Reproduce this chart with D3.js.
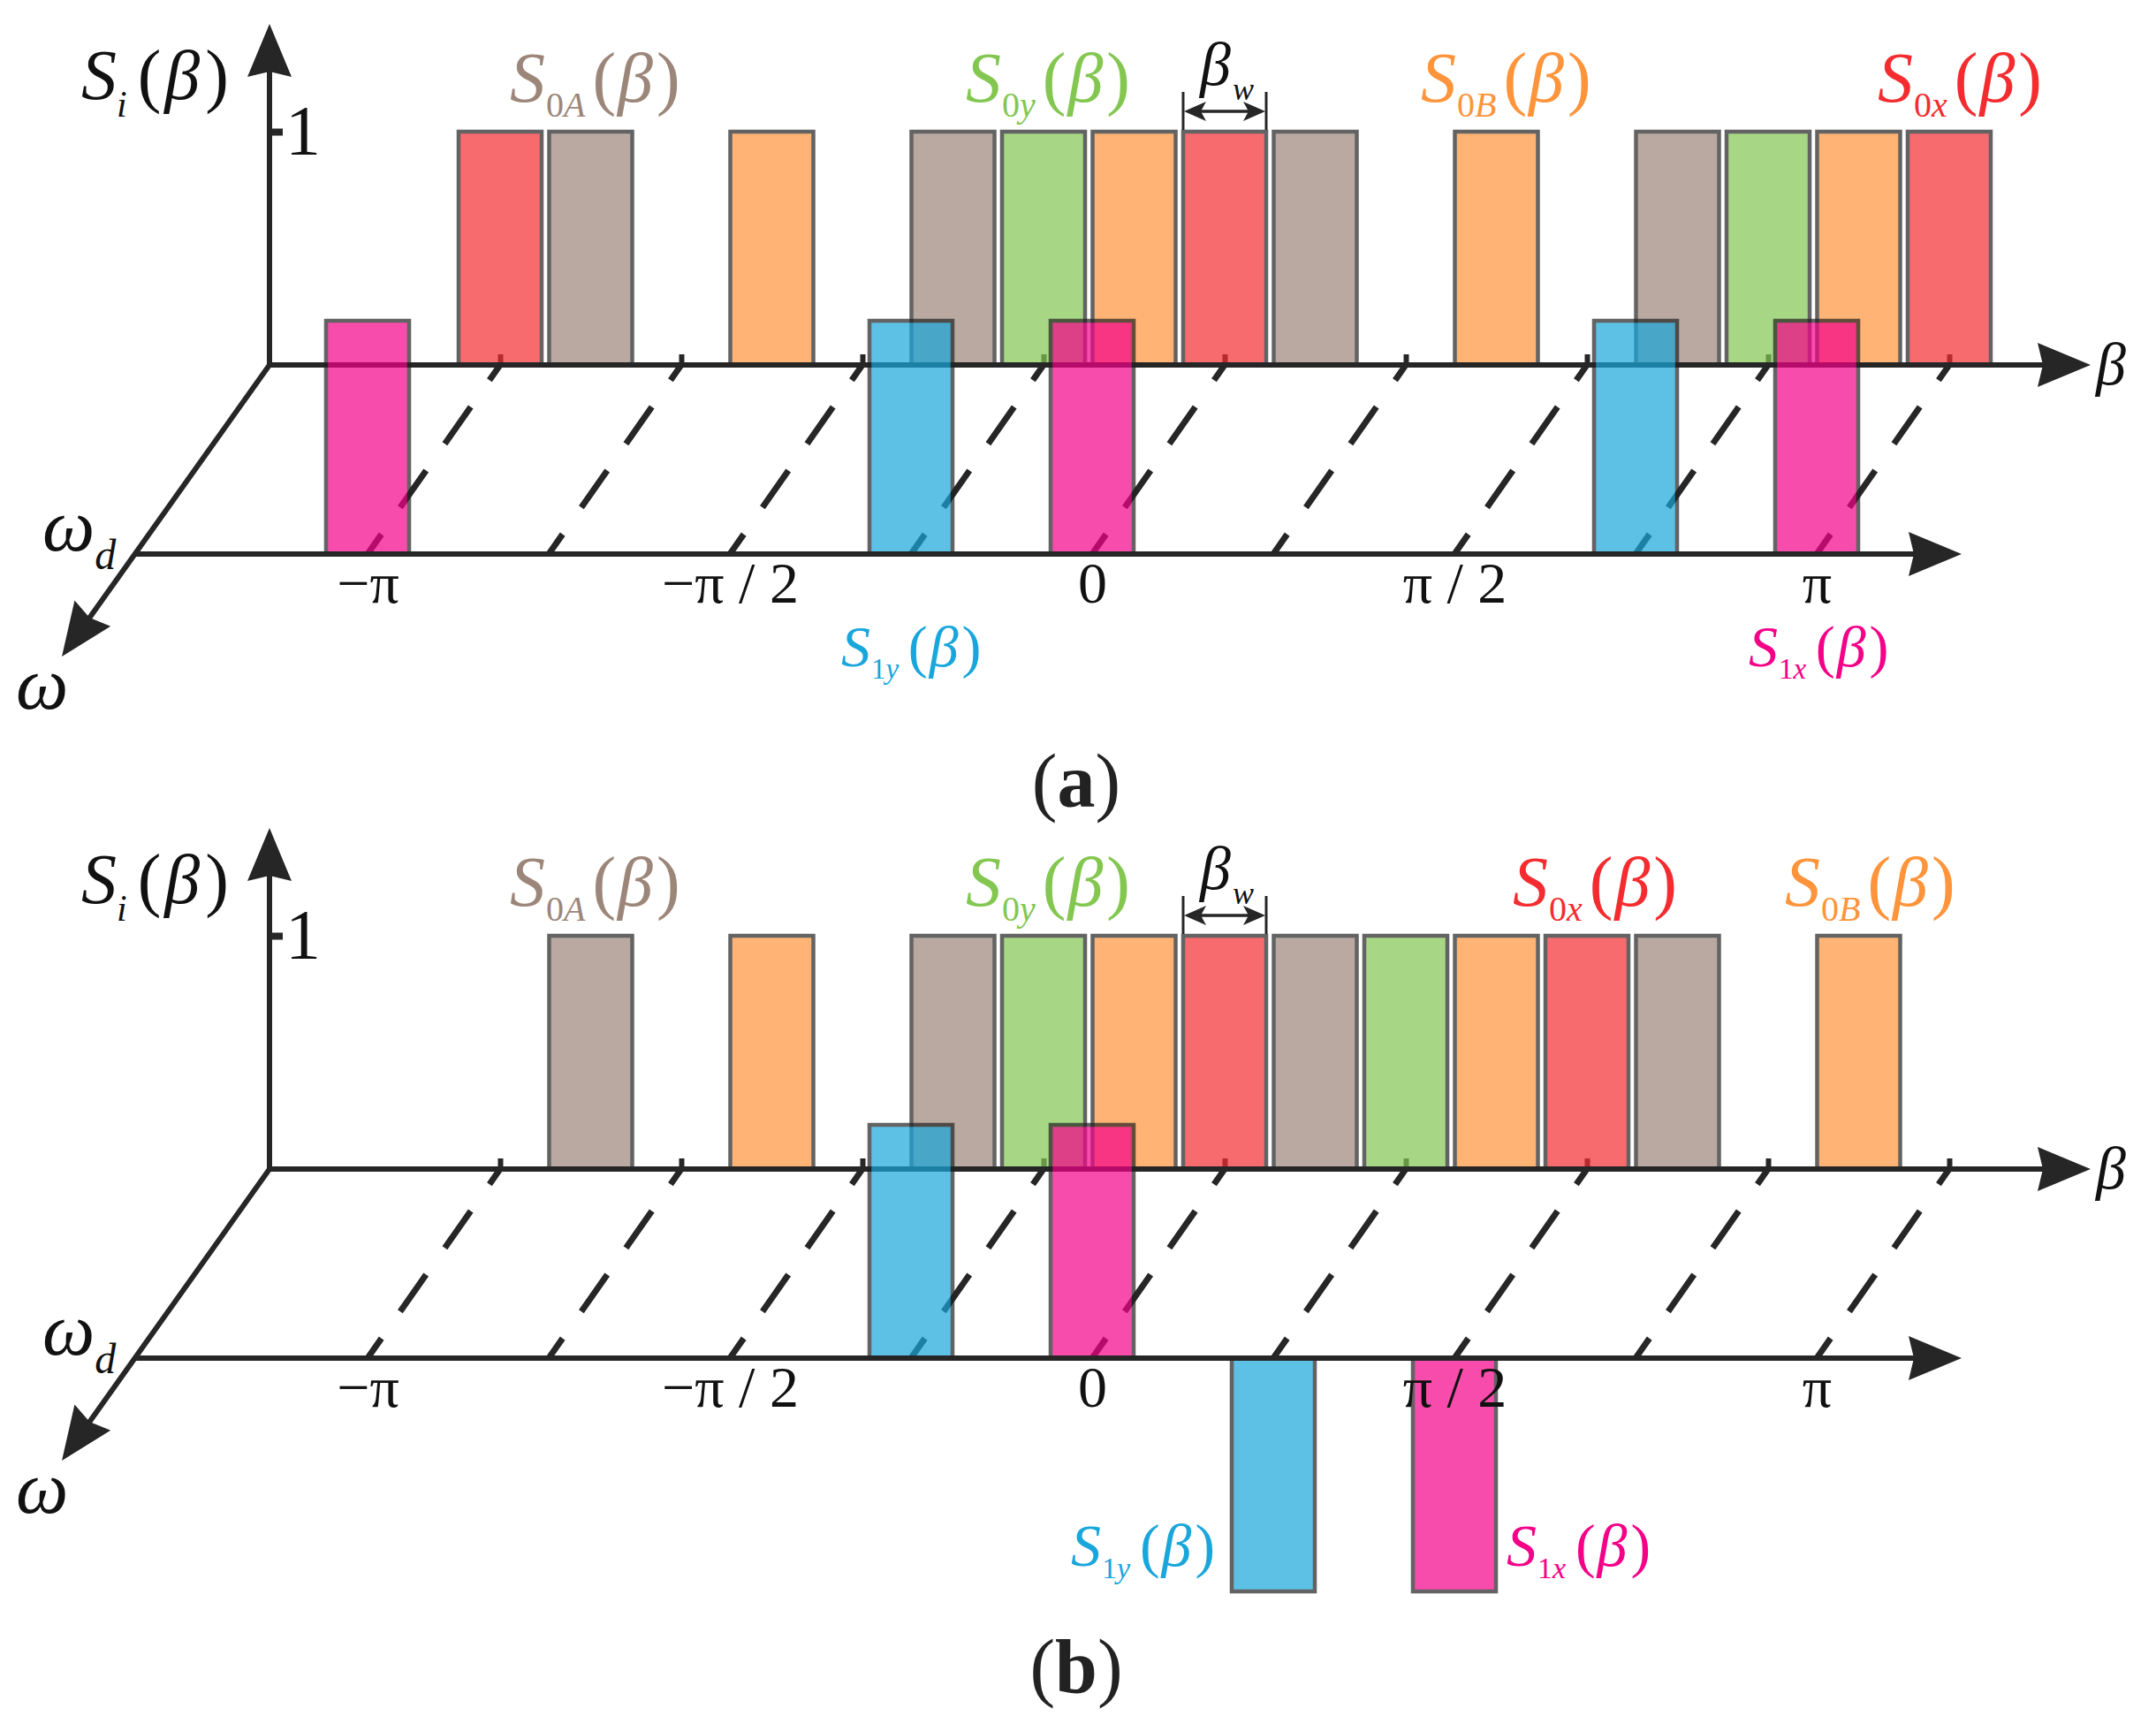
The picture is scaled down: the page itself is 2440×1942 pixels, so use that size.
<!DOCTYPE html>
<html><head><meta charset="utf-8">
<script src="https://cdn.jsdelivr.net/npm/d3@7"></script>
<style>body{margin:0;background:#fff}svg{display:block}</style>
</head><body>
<svg id="chart" width="2440" height="1942"></svg>
<script>
// ---------------- data ----------------
// β values are expressed in units of π
const tickValues = [-1, -0.5, 0, 0.5, 1];
const tickLabels = ["−π", "−π / 2", "0", "π / 2", "π"];
const gridValues = [-1, -0.75, -0.5, -0.25, 0, 0.25, 0.5, 0.75, 1];
const valueTicks = [1];

// Panel (a)
const aBackBeta   = [-1, -0.875, -0.625, -0.375, -0.25, -0.125, 0, 0.125, 0.375, 0.625, 0.75, 0.875, 1];
const aBackSeries = ["S0x","S0A","S0B","S0A","S0y","S0B","S0x","S0A","S0B","S0A","S0y","S0B","S0x"];
const aBackValue  = [1,1,1,1,1,1,1,1,1,1,1,1,1];
const aFrontBeta   = [-1, -0.25, 0, 0.75, 1];
const aFrontSeries = ["S1x","S1y","S1x","S1y","S1x"];
const aFrontValue  = [1,1,1,1,1];

// Panel (b)
const bBackBeta   = [-0.875, -0.625, -0.375, -0.25, -0.125, 0, 0.125, 0.25, 0.375, 0.5, 0.625, 0.875];
const bBackSeries = ["S0A","S0B","S0A","S0y","S0B","S0x","S0A","S0y","S0B","S0x","S0A","S0B"];
const bBackValue  = [1,1,1,1,1,1,1,1,1,1,1,1];
const bFrontBeta   = [-0.25, 0, 0.25, 0.5];
const bFrontSeries = ["S1y","S1x","S1y","S1x"];
const bFrontValue  = [1,1,-1,-1];

// ---------------- styles ----------------
const seriesColor = {S0A:"#9C867A", S0y:"#83C751", S0B:"#FF943B", S0x:"#F42C30", S1y:"#19A6DB", S1x:"#F40188"};
const FONT = "'Liberation Serif','Times New Roman',Times,serif";
const AX = "#262626";
const TXT = "#111";

const svg = d3.select("#chart");

// geometry
const xFront = d3.scaleLinear().domain([-1, 1]).range([416, 2056]);
const DEPTH_DX = 150, DEPTH_DY = -214;
const xBack = d3.scaleLinear().domain([-1, 1]).range([416 + DEPTH_DX, 2056 + DEPTH_DX]);
const BAR_W = 94;
const UNIT_H = 264;

function arrow(g, x1, y1, x2, y2, len = 60, hw = 25, notch = 6) {
  const dx = x2 - x1, dy = y2 - y1, L = Math.hypot(dx, dy);
  const ux = dx / L, uy = dy / L, px = -uy, py = ux;
  g.append("line").attr("x1", x1).attr("y1", y1)
    .attr("x2", x2 - ux * (len - notch - 2)).attr("y2", y2 - uy * (len - notch - 2))
    .attr("stroke", AX).attr("stroke-width", 6);
  const bx = x2 - ux * len, by = y2 - uy * len;
  const p = [[x2, y2], [bx + px * hw, by + py * hw], [x2 - ux * (len - notch), y2 - uy * (len - notch)], [bx - px * hw, by - py * hw]];
  g.append("path").attr("d", "M" + p.map(q => q.join(",")).join("L") + "Z").attr("fill", AX);
}

function seriesLabel(g, x, y, name, size) {
  const k = size / 80;
  const t = g.append("text").attr("x", x).attr("y", y).attr("fill", seriesColor[name])
    .style("font-family", FONT).style("font-size", size + "px");
  t.append("tspan").style("font-style", "italic").text("S");
  t.append("tspan").attr("dy", 17 * k).attr("dx", 1).style("font-size", (40 * k) + "px").text(name[1]);
  t.append("tspan").style("font-size", (40 * k) + "px").style("font-style", "italic").text(name[2]);
  t.append("tspan").attr("dy", -17 * k).attr("dx", 8 * k + (k < 1 ? 4 : 0)).text("(");
  t.append("tspan").style("font-style", "italic").attr("dx", 2).text("β");
  t.append("tspan").attr("dx", 4).text(")");
}

function bars(g, betas, series, values, xs, ys) {
  g.selectAll(null).data(betas.map((b, i) => ({b, s: series[i], v: values[i]})))
    .enter().append("rect")
    .attr("x", d => xs(d.b) - BAR_W / 2)
    .attr("width", BAR_W)
    .attr("y", d => Math.min(ys(d.v), ys(0)))
    .attr("height", d => Math.abs(ys(d.v) - ys(0)))
    .attr("fill", d => seriesColor[d.s])
    .attr("stroke", "#222").attr("stroke-width", 4.5)
    .attr("opacity", 0.7);
}

function panel(oy, back, front, labels, caption, captionY) {
  const g = svg.append("g");
  const frontBase = 627 + oy, backBase = frontBase + DEPTH_DY;
  const yBack = d3.scaleLinear().domain([0, 1]).range([backBase, backBase - UNIT_H]);
  const yFront = d3.scaleLinear().domain([0, 1]).range([frontBase, frontBase - UNIT_H]);

  // dashed depth grid lines
  g.selectAll(null).data(gridValues).enter().append("line")
    .attr("x1", d => xBack(d)).attr("y1", backBase)
    .attr("x2", d => xFront(d)).attr("y2", frontBase)
    .attr("stroke", AX).attr("stroke-width", 7)
    .attr("stroke-dasharray", "51 37").attr("stroke-dashoffset", 30);

  // back axis tick stubs
  const gt = g.append("g").attr("transform", `translate(0,${backBase})`)
    .call(d3.axisTop(xBack).tickValues(gridValues).tickSize(12).tickFormat(""));
  gt.select(".domain").remove();
  gt.selectAll(".tick line").attr("stroke", AX).attr("stroke-width", 6);

  // back bars
  bars(g, back[0], back[1], back[2], xBack, yBack);

  // β axis
  arrow(g, 305, backBase, 2366, backBase);
  g.append("text").attr("x", 2372).attr("y", backBase + 22).attr("fill", TXT)
    .style("font-family", FONT).style("font-size", "68px").style("font-style", "italic").text("β");

  // vertical axis
  arrow(g, 305, backBase + 3, 305, 27 + oy);
  const gv = g.append("g").attr("transform", "translate(302,0)")
    .call(d3.axisRight(yBack).tickValues(valueTicks).tickSize(18).tickPadding(3).tickFormat(d3.format("d")));
  gv.select(".domain").remove();
  gv.selectAll(".tick line").attr("stroke", AX).attr("stroke-width", 8);
  gv.selectAll(".tick text").attr("fill", TXT).attr("dy", "0.32em")
    .style("font-family", FONT).style("font-size", "80px");

  // S_i(β)
  const st = g.append("text").attr("x", 92).attr("y", 112 + oy).attr("fill", TXT)
    .style("font-family", FONT).style("font-size", "80px");
  st.append("tspan").style("font-style", "italic").text("S");
  st.append("tspan").attr("dy", 20).style("font-size", "42px").style("font-style", "italic").text("i");
  st.append("tspan").attr("dy", -20).attr("dx", 12).text("(");
  st.append("tspan").style("font-style", "italic").attr("dx", 4).text("β");
  st.append("tspan").attr("dx", 6).text(")");

  // depth axis
  arrow(g, 305, backBase, 70, 743 + oy);
  const wd = g.append("text").attr("x", 48).attr("y", 623 + oy).attr("fill", TXT)
    .style("font-family", FONT).style("font-size", "84px");
  wd.append("tspan").style("font-style", "italic").text("ω");
  wd.append("tspan").attr("dy", 21).style("font-size", "48px").style("font-style", "italic").text("d");
  g.append("text").attr("x", 18).attr("y", 802 + oy).attr("fill", TXT)
    .style("font-family", FONT).style("font-size", "84px").style("font-style", "italic").text("ω");

  // front bars
  bars(g, front[0], front[1], front[2], xFront, yFront);

  // front axis
  arrow(g, 153, frontBase, 2220, frontBase);
  const gf = g.append("g").attr("transform", `translate(0,${frontBase})`)
    .call(d3.axisBottom(xFront).tickValues(tickValues).tickFormat((d, i) => tickLabels[i]).tickSize(0).tickPadding(0));
  gf.select(".domain").remove();
  gf.selectAll(".tick text").attr("y", 55).attr("dy", null).attr("fill", TXT)
    .style("font-family", FONT).style("font-size", "66px");

  // series labels
  labels.forEach(l => seriesLabel(g, l[1], l[2] + oy, l[0], l[3]));

  // β_w annotation on the bar at β = 0
  const xl = xBack(0) - BAR_W / 2, xr = xBack(0) + BAR_W / 2, ay = 126 + oy;
  [xl, xr].forEach(x => g.append("line").attr("x1", x).attr("x2", x)
    .attr("y1", 104 + oy).attr("y2", 147 + oy).attr("stroke", AX).attr("stroke-width", 3));
  g.append("line").attr("x1", xl + 10).attr("x2", xr - 10).attr("y1", ay).attr("y2", ay)
    .attr("stroke", AX).attr("stroke-width", 3.5);
  g.append("path").attr("d", `M${xl + 1},${ay}L${xl + 26},${ay - 11}L${xl + 20},${ay}L${xl + 26},${ay + 11}Z`).attr("fill", AX);
  g.append("path").attr("d", `M${xr - 1},${ay}L${xr - 26},${ay - 11}L${xr - 20},${ay}L${xr - 26},${ay + 11}Z`).attr("fill", AX);
  const bw = g.append("text").attr("x", 1358).attr("y", 96 + oy).attr("fill", TXT)
    .style("font-family", FONT).style("font-size", "70px");
  bw.append("tspan").style("font-style", "italic").text("β");
  bw.append("tspan").attr("dy", 17).attr("dx", 2).style("font-size", "36px").style("font-style", "italic").text("w");

  // caption
  const cap = g.append("text").attr("x", 1218).attr("y", captionY).attr("text-anchor", "middle")
    .attr("fill", "#222").style("font-family", FONT).style("font-size", "86px");
  cap.append("tspan").text("(");
  cap.append("tspan").style("font-weight", "bold").text(caption);
  cap.append("tspan").text(")");
}

panel(0,
  [aBackBeta, aBackSeries, aBackValue],
  [aFrontBeta, aFrontSeries, aFrontValue],
  [["S0A", 577, 115, 80], ["S0y", 1093, 115, 80], ["S0B", 1608, 115, 80], ["S0x", 2125, 115, 80],
   ["S1y", 952, 754, 66], ["S1x", 1979, 754, 66]],
  "a", 913);

panel(910,
  [bBackBeta, bBackSeries, bBackValue],
  [bFrontBeta, bFrontSeries, bFrontValue],
  [["S0A", 577, 115, 80], ["S0y", 1093, 115, 80], ["S0x", 1712, 115, 80], ["S0B", 2020, 115, 80],
   ["S1y", 1212, 862, 68], ["S1x", 1705, 862, 68]],
  "b", 1915);
</script>
</body></html>
